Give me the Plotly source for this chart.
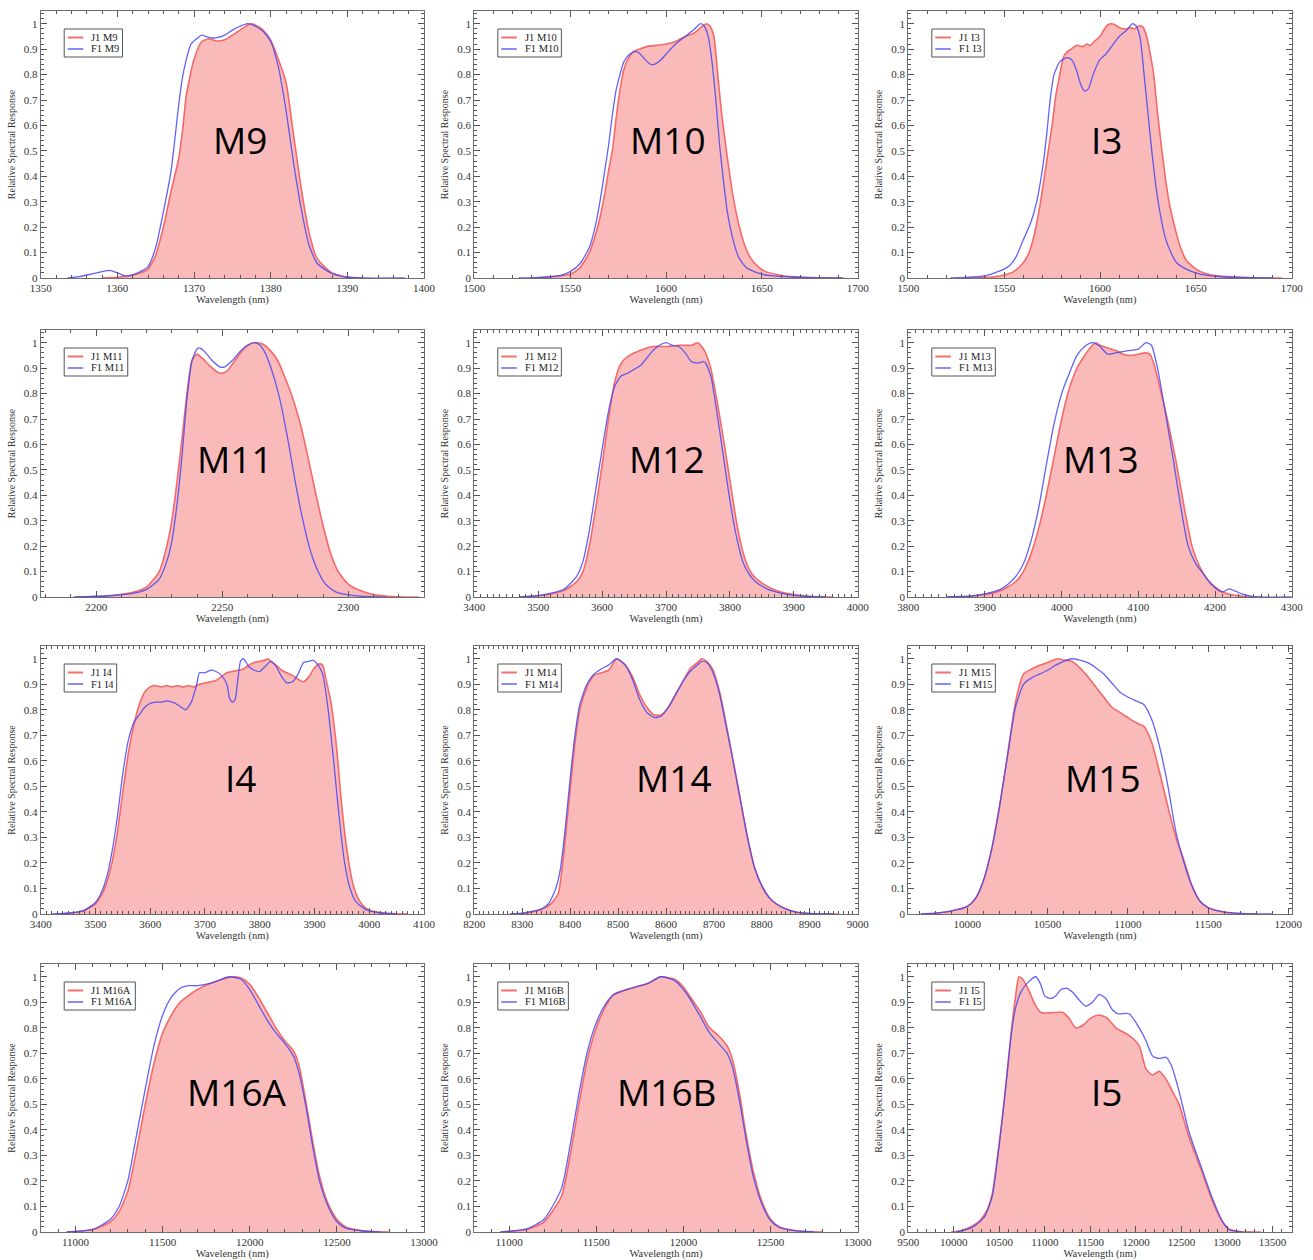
import plotly.graph_objects as go

# ---------------------------------------------------------------------------
# Relative spectral response (RSR) of VIIRS SWIR/MWIR/LWIR bands,
# J1 (red, filled) versus F1 (blue line).  Wavelengths in nm.
# ---------------------------------------------------------------------------

BANDS = ["M9", "M10", "I3", "M11", "M12", "M13", "I4", "M14", "M15", "M16A", "M16B", "I5"]

# ---- M9 ----
m9_j1_wl = [1358, 1360, 1362, 1363, 1364, 1365, 1366, 1367, 1368, 1368.5, 1369, 1370, 1371, 1372, 1373,
            1374, 1375, 1376, 1377, 1377.5, 1378, 1379, 1380, 1381, 1382, 1383, 1384, 1385, 1386, 1387,
            1388, 1389, 1390, 1392]
m9_j1_rsr = [0, 0.003, 0.012, 0.02, 0.035, 0.09, 0.2, 0.34, 0.47, 0.58, 0.72, 0.86, 0.93, 0.94, 0.932,
             0.937, 0.955, 0.975, 0.995, 1.0, 0.995, 0.975, 0.935, 0.86, 0.77, 0.56, 0.35, 0.18, 0.08, 0.045,
             0.02, 0.01, 0.004, 0]
m9_f1_wl = [1353.5, 1355, 1357, 1359, 1360, 1361, 1362, 1363, 1364, 1365, 1366, 1367, 1368, 1368.5, 1369,
            1369.6, 1370.5, 1371, 1372, 1373, 1374, 1375, 1376, 1377, 1378, 1379, 1380, 1381, 1382, 1383,
            1384, 1385, 1386, 1387, 1388, 1389, 1390, 1392, 1397.5]
m9_f1_rsr = [0, 0.005, 0.018, 0.03, 0.02, 0.008, 0.012, 0.025, 0.045, 0.12, 0.26, 0.42, 0.68, 0.79, 0.86,
             0.92, 0.945, 0.955, 0.945, 0.945, 0.955, 0.975, 0.99, 1.0, 0.99, 0.97, 0.93, 0.83, 0.66, 0.45,
             0.27, 0.13, 0.06, 0.035, 0.018, 0.008, 0.003, 0, 0]

# ---- M10 ----
m10_j1_wl = [1530, 1540, 1550, 1555, 1560, 1565, 1568, 1570, 1572, 1574, 1576, 1578, 1580, 1583, 1586,
             1590, 1595, 1600, 1605, 1610, 1615, 1618, 1621, 1623, 1625, 1627, 1629, 1631, 1633, 1635,
             1638, 1641, 1644, 1648, 1652, 1657, 1662, 1670, 1680, 1693]
m10_j1_rsr = [0, 0.005, 0.015, 0.04, 0.1, 0.22, 0.33, 0.42, 0.5, 0.63, 0.74, 0.82, 0.86, 0.89, 0.9,
              0.91, 0.915, 0.92, 0.93, 0.95, 0.965, 0.985, 1.0, 0.99, 0.95, 0.8, 0.65, 0.53, 0.42, 0.32,
              0.21, 0.13, 0.08, 0.045, 0.025, 0.015, 0.008, 0.004, 0.001, 0]
m10_f1_wl = [1523, 1535, 1545, 1550, 1555, 1560, 1563, 1566, 1568, 1570, 1572, 1574, 1576, 1578, 1581,
             1584, 1586, 1589, 1592, 1594, 1597, 1600, 1605, 1610, 1615, 1618, 1620, 1622, 1624, 1626,
             1628, 1630, 1632, 1635, 1638, 1642, 1646, 1650, 1656, 1665, 1675, 1692]
m10_f1_rsr = [0, 0.002, 0.01, 0.025, 0.055, 0.12, 0.2, 0.32, 0.42, 0.52, 0.64, 0.74, 0.8, 0.85, 0.88,
              0.89, 0.885, 0.86, 0.84, 0.84, 0.855, 0.88, 0.92, 0.95, 0.98, 1.0, 0.99, 0.95, 0.85, 0.7,
              0.52, 0.38, 0.26, 0.15, 0.08, 0.04, 0.025, 0.015, 0.008, 0.004, 0.001, 0]

# ---- I3 ----
i3_j1_wl = [1530, 1545, 1550, 1555, 1560, 1563, 1566, 1569, 1572, 1575, 1577, 1579, 1581, 1583, 1585,
            1588, 1591, 1593, 1595, 1597, 1600, 1602, 1604, 1606, 1608, 1610, 1612, 1614, 1616, 1618,
            1620, 1622, 1624, 1626, 1628, 1630, 1632, 1634, 1636, 1639, 1642, 1645, 1650, 1655, 1660,
            1670, 1680, 1695]
i3_j1_rsr = [0, 0.005, 0.012, 0.025, 0.06, 0.1, 0.18, 0.3, 0.45, 0.6, 0.72, 0.8, 0.87, 0.89, 0.9,
             0.915, 0.91, 0.92, 0.915, 0.93, 0.95, 0.975, 0.995, 1.0, 0.995, 0.985, 0.98, 0.98, 0.985, 0.98,
             0.99, 0.99, 0.96, 0.89, 0.8, 0.65, 0.52, 0.4, 0.3, 0.2, 0.12, 0.07, 0.035, 0.018, 0.01,
             0.004, 0.001, 0]
i3_f1_wl = [1522, 1530, 1540, 1545, 1550, 1553, 1556, 1560, 1564, 1567, 1570, 1572, 1574, 1576, 1579,
            1582, 1584, 1586, 1588, 1590, 1592, 1594, 1596, 1598, 1600, 1603, 1606, 1610, 1614, 1617,
            1619, 1621, 1623, 1625, 1627, 1629, 1631, 1634, 1637, 1640, 1645, 1650, 1656, 1665, 1690]
i3_f1_rsr = [0, 0.002, 0.008, 0.02, 0.035, 0.05, 0.08, 0.15, 0.22, 0.3, 0.43, 0.55, 0.7, 0.8, 0.85,
             0.865, 0.865, 0.85, 0.81, 0.76, 0.735, 0.745, 0.79, 0.83, 0.86, 0.88, 0.91, 0.95, 0.975, 1.0,
             0.99, 0.94, 0.8, 0.65, 0.5, 0.37, 0.27, 0.16, 0.1, 0.06, 0.035, 0.02, 0.01, 0.004, 0]

# ---- M11 ----
m11_j1_wl = [2192, 2205, 2215, 2220, 2225, 2228, 2230, 2232, 2234, 2236, 2238, 2240, 2242, 2245, 2248,
             2250, 2252, 2255, 2258, 2261, 2263, 2266, 2269, 2272, 2275, 2278, 2281, 2284, 2287, 2290,
             2293, 2296, 2300, 2305, 2310, 2315, 2320, 2328]
m11_j1_rsr = [0, 0.005, 0.02, 0.04, 0.1, 0.2, 0.3, 0.45, 0.62, 0.8, 0.93, 0.955, 0.94, 0.91, 0.885,
              0.88, 0.89, 0.93, 0.97, 0.995, 1.0, 0.995, 0.97, 0.93, 0.86, 0.78, 0.68, 0.55, 0.41, 0.28,
              0.17, 0.1, 0.05, 0.025, 0.01, 0.004, 0.001, 0]
m11_f1_wl = [2191, 2205, 2215, 2220, 2225, 2228, 2230, 2232, 2234, 2236, 2238, 2240, 2241, 2243, 2246,
             2249, 2251, 2254, 2257, 2260, 2263, 2265, 2267, 2270, 2273, 2276, 2279, 2282, 2285, 2288,
             2291, 2295, 2300, 2305, 2315]
m11_f1_rsr = [0, 0.005, 0.015, 0.03, 0.07, 0.14, 0.22, 0.36, 0.55, 0.78, 0.93, 0.975, 0.98, 0.965, 0.93,
              0.905, 0.905, 0.93, 0.965, 0.99, 1.0, 0.99, 0.96, 0.88, 0.77, 0.62, 0.45, 0.3, 0.18, 0.1,
              0.05, 0.02, 0.008, 0.003, 0]

# ---- M12 ----
m12_j1_wl = [3470, 3500, 3520, 3540, 3560, 3570, 3580, 3590, 3600, 3610, 3620, 3630, 3640, 3660, 3680,
             3700, 3720, 3740, 3750, 3760, 3770, 3780, 3790, 3800, 3810, 3820, 3830, 3840, 3860, 3880,
             3900, 3920, 3940, 3960]
m12_j1_rsr = [0, 0.005, 0.012, 0.025, 0.06, 0.1, 0.2, 0.35, 0.52, 0.7, 0.85, 0.92, 0.945, 0.97, 0.985,
              0.985, 0.99, 0.99, 1.0, 0.97, 0.9, 0.77, 0.62, 0.46, 0.3, 0.18, 0.11, 0.075, 0.04, 0.02,
              0.01, 0.004, 0.001, 0]
m12_f1_wl = [3470, 3500, 3520, 3540, 3560, 3570, 3580, 3590, 3600, 3610, 3620, 3630, 3640, 3650, 3660,
             3670, 3680, 3690, 3700, 3710, 3720, 3730, 3740, 3750, 3760, 3770, 3780, 3790, 3800, 3810,
             3820, 3830, 3840, 3860, 3880, 3900, 3920, 3950]
m12_f1_rsr = [0, 0.005, 0.015, 0.03, 0.08, 0.14, 0.26, 0.42, 0.58, 0.73, 0.83, 0.87, 0.88, 0.895, 0.91,
              0.94, 0.97, 0.99, 1.0, 0.99, 0.985, 0.96, 0.925, 0.92, 0.925, 0.87, 0.72, 0.55, 0.38, 0.24,
              0.14, 0.09, 0.06, 0.03, 0.015, 0.006, 0.002, 0]

# ---- M13 ----
m13_j1_wl = [3850, 3880, 3900, 3920, 3940, 3950, 3960, 3970, 3980, 3990, 4000, 4010, 4020, 4030, 4040,
             4045, 4050, 4060, 4070, 4080, 4090, 4100, 4110, 4115, 4120, 4130, 4140, 4150, 4160, 4170,
             4180, 4190, 4200, 4210, 4220, 4240, 4260]
m13_j1_rsr = [0, 0.003, 0.01, 0.025, 0.06, 0.1, 0.17, 0.27, 0.4, 0.55, 0.7, 0.82, 0.9, 0.95, 0.99,
              1.0, 0.99, 0.98, 0.97, 0.955, 0.95, 0.955, 0.96, 0.955, 0.92, 0.8, 0.67, 0.52, 0.35, 0.2,
              0.12, 0.07, 0.04, 0.02, 0.01, 0.002, 0]
m13_f1_wl = [3850, 3880, 3900, 3920, 3930, 3940, 3950, 3960, 3970, 3980, 3990, 4000, 4010, 4020, 4030,
             4040, 4050, 4060, 4070, 4080, 4090, 4100, 4110, 4117, 4125, 4135, 4145, 4155, 4165, 4175,
             4185, 4195, 4205, 4210, 4218, 4225, 4235, 4245, 4255, 4300]
m13_f1_rsr = [0, 0.003, 0.012, 0.03, 0.05, 0.08, 0.13, 0.22, 0.35, 0.52, 0.68, 0.8, 0.88, 0.95, 0.985,
              1.0, 0.985, 0.955, 0.96, 0.965, 0.97, 0.975, 1.0, 0.99, 0.9, 0.73, 0.55, 0.36, 0.2, 0.13,
              0.09, 0.05, 0.025, 0.02, 0.032, 0.025, 0.012, 0.004, 0, 0]

# ---- I4 ----
i4_j1_wl = [3430, 3460, 3480, 3500, 3510, 3520, 3530, 3540, 3550, 3560, 3570, 3580, 3590, 3600, 3610,
            3620, 3630, 3640, 3650, 3660, 3670, 3680, 3690, 3700, 3710, 3720, 3730, 3740, 3750, 3760,
            3770, 3780, 3790, 3800, 3810, 3815, 3820, 3830, 3840, 3850, 3860, 3870, 3880, 3890, 3900,
            3910, 3915, 3920, 3930, 3940, 3950, 3960, 3970, 3980, 3990, 4000, 4020, 4040, 4070]
i4_j1_rsr = [0, 0.005, 0.015, 0.04, 0.07, 0.12, 0.2, 0.32, 0.48, 0.63, 0.74, 0.82, 0.87, 0.89, 0.895,
             0.89, 0.895, 0.89, 0.895, 0.89, 0.895, 0.89, 0.9, 0.905, 0.91, 0.915, 0.93, 0.945, 0.95, 0.955,
             0.96, 0.975, 0.985, 0.99, 0.995, 1.0, 0.99, 0.975, 0.955, 0.945, 0.935, 0.92, 0.91, 0.93, 0.965,
             0.98, 0.975, 0.93, 0.83, 0.66, 0.42, 0.24, 0.12, 0.06, 0.03, 0.015, 0.006, 0.002, 0]
i4_f1_wl = [3420, 3460, 3480, 3500, 3510, 3520, 3530, 3540, 3550, 3560, 3570, 3580, 3590, 3600, 3610,
            3620, 3630, 3640, 3650, 3660, 3665, 3675, 3685, 3690, 3700, 3710, 3720, 3730, 3740, 3745,
            3750, 3755, 3760, 3765, 3770, 3780, 3790, 3800, 3810, 3820, 3830, 3840, 3850, 3860, 3870,
            3880, 3890, 3897, 3905, 3915, 3925, 3935, 3945, 3955, 3965, 3975, 3990, 4000, 4020, 4050]
i4_f1_rsr = [0, 0.005, 0.015, 0.045, 0.08, 0.14, 0.24, 0.38, 0.55, 0.68, 0.75, 0.78, 0.81, 0.825, 0.83,
             0.83, 0.835, 0.83, 0.82, 0.805, 0.8, 0.83, 0.9, 0.945, 0.945, 0.955, 0.95, 0.935, 0.9, 0.845,
             0.83, 0.84, 0.92, 0.99, 1.0, 0.97, 0.955, 0.95, 0.97, 0.99, 0.97, 0.93, 0.905, 0.91, 0.94,
             0.985, 0.99, 0.995, 0.98, 0.94, 0.8, 0.6, 0.38, 0.2, 0.1, 0.05, 0.022, 0.012, 0.004, 0]

# ---- M14 ----
m14_j1_wl = [8275, 8300, 8320, 8340, 8360, 8375, 8390, 8400, 8410, 8420, 8435, 8450, 8465, 8480, 8497,
             8515, 8530, 8545, 8560, 8575, 8590, 8605, 8620, 8635, 8650, 8665, 8675, 8685, 8697, 8712,
             8725, 8740, 8755, 8770, 8785, 8800, 8815, 8830, 8850, 8870, 8900, 8960]
m14_j1_rsr = [0, 0.002, 0.008, 0.018, 0.04, 0.08, 0.3, 0.49, 0.67, 0.8, 0.89, 0.935, 0.945, 0.955, 1.0,
              0.975, 0.93, 0.86, 0.81, 0.78, 0.78, 0.81, 0.86, 0.91, 0.96, 0.985, 1.0, 0.99, 0.96, 0.87,
              0.75, 0.6, 0.45, 0.3, 0.18, 0.11, 0.065, 0.04, 0.02, 0.008, 0.002, 0]
m14_f1_wl = [8275, 8300, 8320, 8340, 8355, 8370, 8380, 8390, 8400, 8410, 8420, 8435, 8450, 8465, 8480,
             8497, 8515, 8530, 8545, 8560, 8575, 8590, 8605, 8620, 8635, 8650, 8665, 8675, 8685, 8697,
             8712, 8725, 8740, 8755, 8770, 8785, 8800, 8815, 8830, 8850, 8870, 8900, 8950]
m14_f1_rsr = [0, 0.003, 0.01, 0.02, 0.04, 0.1, 0.18, 0.34, 0.53, 0.7, 0.82, 0.9, 0.94, 0.96, 0.975,
              1.0, 0.975, 0.92, 0.84, 0.79, 0.77, 0.775, 0.81, 0.86, 0.91, 0.95, 0.975, 0.99, 0.985, 0.95,
              0.86, 0.74, 0.6, 0.45, 0.3, 0.18, 0.11, 0.065, 0.04, 0.02, 0.008, 0.002, 0]

# ---- M15 ----
m15_j1_wl = [9710, 9800, 9900, 10000, 10050, 10100, 10150, 10200, 10250, 10300, 10350, 10400, 10450, 10500,
             10560, 10600, 10650, 10700, 10750, 10800, 10850, 10900, 10950, 11000, 11050, 11100, 11150,
             11200, 11250, 11300, 11350, 11400, 11450, 11500, 11600, 11700, 11800]
m15_j1_rsr = [0, 0.003, 0.012, 0.03, 0.06, 0.13, 0.25, 0.42, 0.62, 0.83, 0.94, 0.96, 0.975, 0.985,
              1.0, 0.995, 0.99, 0.965, 0.93, 0.89, 0.85, 0.81, 0.79, 0.77, 0.75, 0.735, 0.67,
              0.55, 0.42, 0.3, 0.21, 0.11, 0.05, 0.025, 0.007, 0.002, 0]
m15_f1_wl = [9710, 9800, 9900, 10000, 10050, 10100, 10150, 10200, 10250, 10300, 10350, 10400, 10450, 10500,
             10550, 10600, 10650, 10700, 10750, 10800, 10850, 10900, 10950, 11000, 11050, 11100, 11150,
             11200, 11250, 11300, 11350, 11400, 11450, 11500, 11600, 11700, 11900]
m15_f1_rsr = [0, 0.003, 0.012, 0.03, 0.06, 0.13, 0.25, 0.42, 0.62, 0.81, 0.9, 0.925, 0.94, 0.955,
              0.975, 0.99, 1.0, 0.995, 0.985, 0.965, 0.94, 0.905, 0.87, 0.85, 0.835, 0.82, 0.76,
              0.65, 0.5, 0.32, 0.2, 0.11, 0.05, 0.025, 0.008, 0.002, 0]

# ---- M16A ----
m16a_j1_wl = [10950, 11100, 11200, 11250, 11300, 11350, 11400, 11450, 11500, 11550, 11600, 11700, 11800,
              11900, 11950, 12000, 12050, 12100, 12150, 12200, 12250, 12280, 12320, 12360, 12400, 12450,
              12500, 12550, 12650, 12800]
m16a_j1_rsr = [0, 0.01, 0.04, 0.08, 0.16, 0.32, 0.5, 0.66, 0.78, 0.85, 0.9, 0.95, 0.98,
               1.0, 0.995, 0.97, 0.92, 0.86, 0.8, 0.75, 0.71, 0.66, 0.52, 0.36, 0.22, 0.11,
               0.05, 0.02, 0.005, 0]
m16a_f1_wl = [10950, 11100, 11200, 11250, 11300, 11350, 11400, 11450, 11500, 11550, 11600, 11650, 11700,
              11800, 11880, 11950, 12000, 12050, 12100, 12150, 12200, 12250, 12280, 12320, 12360, 12400,
              12450, 12500, 12550, 12650, 12750]
m16a_f1_rsr = [0, 0.01, 0.05, 0.1, 0.2, 0.38, 0.56, 0.73, 0.85, 0.92, 0.955, 0.965, 0.965,
               0.98, 1.0, 0.99, 0.95, 0.89, 0.83, 0.78, 0.74, 0.69, 0.63, 0.5, 0.34, 0.2,
               0.1, 0.04, 0.015, 0.004, 0]

# ---- M16B ----
m16b_j1_wl = [10950, 11100, 11200, 11300, 11350, 11400, 11450, 11500, 11550, 11600, 11700, 11800, 11870,
              11950, 12000, 12050, 12100, 12150, 12200, 12250, 12280, 12320, 12360, 12400, 12450, 12500,
              12550, 12650, 12800]
m16b_j1_rsr = [0, 0.01, 0.04, 0.14, 0.3, 0.5, 0.68, 0.8, 0.88, 0.93, 0.955, 0.975, 1.0,
               0.99, 0.96, 0.91, 0.86, 0.8, 0.77, 0.73, 0.68, 0.55, 0.38, 0.24, 0.12, 0.05,
               0.02, 0.005, 0]
m16b_f1_wl = [10950, 11100, 11200, 11300, 11350, 11400, 11450, 11500, 11550, 11600, 11700, 11800, 11870,
              11950, 12000, 12050, 12100, 12150, 12200, 12250, 12280, 12320, 12360, 12400, 12450, 12500,
              12550, 12650, 12750]
m16b_f1_rsr = [0, 0.012, 0.05, 0.17, 0.34, 0.54, 0.71, 0.82, 0.89, 0.93, 0.955, 0.975, 1.0,
               0.985, 0.95, 0.9, 0.84, 0.78, 0.74, 0.7, 0.65, 0.52, 0.36, 0.22, 0.11, 0.045,
               0.018, 0.004, 0]

# ---- I5 ----
i5_j1_wl = [9971, 10076, 10181, 10286, 10370, 10422, 10474, 10527, 10579, 10626, 10673, 10715, 10757,
            10820, 10893, 10956, 11119, 11197, 11260, 11339, 11417, 11511, 11595, 11679, 11779, 11925,
            12035, 12109, 12181, 12254, 12329, 12402, 12474, 12584, 12731, 12841, 12951, 13024, 13114, 13376]
i5_j1_rsr = [0, 0.005, 0.02, 0.045, 0.09, 0.15, 0.28, 0.43, 0.6, 0.77, 0.91, 1.0, 0.99,
             0.95, 0.89, 0.86, 0.86, 0.86, 0.84, 0.8, 0.81, 0.84, 0.85, 0.84, 0.8, 0.77,
             0.73, 0.64, 0.615, 0.63, 0.6, 0.55, 0.5, 0.37, 0.23, 0.12, 0.04, 0.01, 0.003, 0]
i5_f1_wl = [10024, 10129, 10233, 10338, 10422, 10474, 10527, 10579, 10626, 10673, 10736, 10820, 10900,
            10954, 10998, 11061, 11119, 11176, 11239, 11302, 11386, 11449, 11522, 11595, 11669, 11742,
            11805, 11925, 12035, 12109, 12181, 12254, 12329, 12391, 12474, 12584, 12731, 12841, 12951,
            13024, 13167]
i5_f1_rsr = [0, 0.008, 0.025, 0.06, 0.14, 0.27, 0.43, 0.6, 0.76, 0.87, 0.94, 0.98, 1.0,
             0.97, 0.925, 0.915, 0.925, 0.95, 0.955, 0.94, 0.905, 0.885, 0.9, 0.93, 0.915, 0.87,
             0.855, 0.855, 0.8, 0.75, 0.69, 0.68, 0.685, 0.65, 0.55, 0.39, 0.24, 0.13, 0.04,
             0.01, 0]

J1_CURVES = {
    "M9": (m9_j1_wl, m9_j1_rsr), "M10": (m10_j1_wl, m10_j1_rsr), "I3": (i3_j1_wl, i3_j1_rsr),
    "M11": (m11_j1_wl, m11_j1_rsr), "M12": (m12_j1_wl, m12_j1_rsr), "M13": (m13_j1_wl, m13_j1_rsr),
    "I4": (i4_j1_wl, i4_j1_rsr), "M14": (m14_j1_wl, m14_j1_rsr), "M15": (m15_j1_wl, m15_j1_rsr),
    "M16A": (m16a_j1_wl, m16a_j1_rsr), "M16B": (m16b_j1_wl, m16b_j1_rsr), "I5": (i5_j1_wl, i5_j1_rsr),
}
F1_CURVES = {
    "M9": (m9_f1_wl, m9_f1_rsr), "M10": (m10_f1_wl, m10_f1_rsr), "I3": (i3_f1_wl, i3_f1_rsr),
    "M11": (m11_f1_wl, m11_f1_rsr), "M12": (m12_f1_wl, m12_f1_rsr), "M13": (m13_f1_wl, m13_f1_rsr),
    "I4": (i4_f1_wl, i4_f1_rsr), "M14": (m14_f1_wl, m14_f1_rsr), "M15": (m15_f1_wl, m15_f1_rsr),
    "M16A": (m16a_f1_wl, m16a_f1_rsr), "M16B": (m16b_f1_wl, m16b_f1_rsr), "I5": (i5_f1_wl, i5_f1_rsr),
}

# x-axis range, major and minor tick spacing per band
X_RANGE = {"M9": (1350, 1400), "M10": (1500, 1700), "I3": (1500, 1700), "M11": (2178, 2330),
           "M12": (3400, 4000), "M13": (3800, 4300), "I4": (3400, 4100), "M14": (8200, 9000),
           "M15": (9632, 12021), "M16A": (10800, 13000), "M16B": (10800, 13000), "I5": (9500, 13710)}
X_DTICK = {"M9": 10, "M10": 50, "I3": 50, "M11": 50, "M12": 100, "M13": 100, "I4": 100, "M14": 100,
           "M15": 500, "M16A": 500, "M16B": 500, "I5": 500}
X_MINOR = {"M9": 2, "M10": 10, "I3": 10, "M11": 10, "M12": 10, "M13": 10, "I4": 10, "M14": 10,
           "M15": 100, "M16A": 100, "M16B": 100, "I5": 100}

# ---------------------------------------------------------------------------
# Page layout (pixels)
# ---------------------------------------------------------------------------
W, H = 1313, 1260
COL_L = [40.7, 474.3, 908.3]
COL_R = [424.0, 857.7, 1291.7]
ROW_T = [11.0, 330.0, 646.0, 964.0]
ROW_B = [278.0, 597.0, 914.0, 1232.0]

# where the big band name sits inside each panel (axis-domain fractions)
LABEL_X = {"M9": 0.52, "M10": 0.505, "I3": 0.518, "M11": 0.507, "M12": 0.503, "M13": 0.503,
           "I4": 0.522, "M14": 0.521, "M15": 0.507, "M16A": 0.512, "M16B": 0.503, "I5": 0.519}
LABEL_Y = [0.5175, 0.5175, 0.51, 0.525]

SERIF = "Liberation Serif, Times New Roman, serif"
BIG = "Open Sans, sans-serif"
FILL = "rgb(250,186,186)"
RED = "rgba(245,85,85,0.85)"
BLUE = "rgba(70,70,245,0.85)"
FRAME = "#6d6d6d"
TICK = "#555555"

# Times-like advance widths (em) used to size the legend boxes
CHAR_EM = {"J": 0.389, "F": 0.556, "M": 0.889, "I": 0.333, "A": 0.722, "B": 0.667, " ": 0.25}


def text_em(s):
    return sum(CHAR_EM.get(ch, 0.5) for ch in s)


fig = go.Figure()
layout = dict(
    width=W, height=H, margin=dict(l=0, r=0, t=0, b=0, autoexpand=False),
    paper_bgcolor="white", plot_bgcolor="white", showlegend=False,
    annotations=[], shapes=[],
)

for i, band in enumerate(BANDS):
    r, c = divmod(i, 3)
    n = i + 1
    sfx = "" if n == 1 else str(n)
    xref, yref = "x" + sfx, "y" + sfx
    pw = COL_R[c] - COL_L[c]
    ph = ROW_B[r] - ROW_T[r]

    jx, jy = J1_CURVES[band]
    fx, fy = F1_CURVES[band]
    fig.add_trace(go.Scatter(x=jx, y=jy, mode="lines", name="J1 " + band, fill="tozeroy",
                             fillcolor=FILL, line=dict(color=RED, width=1.6, shape="spline", smoothing=0.6),
                             xaxis=xref, yaxis=yref))
    fig.add_trace(go.Scatter(x=fx, y=fy, mode="lines", name="F1 " + band,
                             line=dict(color=BLUE, width=1.3, shape="spline", smoothing=0.6),
                             xaxis=xref, yaxis=yref))

    common = dict(
        showline=True, linecolor=FRAME, linewidth=1, mirror="allticks",
        ticks="inside", ticklen=6, tickwidth=1, tickcolor=TICK,
        showgrid=False, zeroline=False, automargin=False,
        tickfont=dict(family=SERIF, size=11, color="#333333"),
    )
    layout["xaxis" + sfx] = dict(
        common, domain=[COL_L[c] / W, COL_R[c] / W], anchor=yref,
        range=list(X_RANGE[band]), tick0=0, dtick=X_DTICK[band], tickformat="d",
        minor=dict(ticks="inside", ticklen=3, tickcolor=TICK, tick0=0, dtick=X_MINOR[band]),
        title=dict(text="Wavelength (nm)", font=dict(family=SERIF, size=10.5, color="#333333"), standoff=1),
    )
    layout["yaxis" + sfx] = dict(
        common, domain=[1 - ROW_B[r] / H, 1 - ROW_T[r] / H], anchor=xref,
        range=[0, 1.05], tick0=0, dtick=0.1,
        minor=dict(ticks="inside", ticklen=3, tickcolor=TICK, tick0=0, dtick=0.02),
        title=dict(text="Relative Spectral Response", font=dict(family=SERIF, size=10, color="#333333"),
                   standoff=6),
    )

    # band name in the middle of the panel
    layout["annotations"].append(dict(
        text=band, xref=xref + " domain", yref=yref + " domain", x=LABEL_X[band], y=LABEL_Y[r],
        xanchor="center", yanchor="middle", showarrow=False,
        font=dict(family=BIG, size=37, color="black"),
    ))

    # framed legend in the upper-left corner
    labels = ["J1 " + band, "F1 " + band]
    colors = [RED, BLUE]
    fsize = 10.5
    bx0 = 23.5
    bw = 25 + max(text_em(s) for s in labels) * fsize + 5
    bt, bb = 18.0, 46.0
    layout["shapes"].append(dict(
        type="rect", xref=xref + " domain", yref=yref + " domain",
        x0=bx0 / pw, x1=(bx0 + bw) / pw, y0=1 - bb / ph, y1=1 - bt / ph,
        line=dict(color="#555555", width=1), fillcolor="white", layer="above",
    ))
    for k, (lab, col) in enumerate(zip(labels, colors)):
        yy = 1 - (bt + 8.5 + 11.5 * k) / ph
        layout["shapes"].append(dict(
            type="line", xref=xref + " domain", yref=yref + " domain",
            x0=(bx0 + 3.5) / pw, x1=(bx0 + 19) / pw, y0=yy, y1=yy,
            line=dict(color=col, width=2 if k == 0 else 1.5), layer="above",
        ))
        layout["annotations"].append(dict(
            text=lab, xref=xref + " domain", yref=yref + " domain",
            x=(bx0 + 25) / pw, y=yy, xanchor="left", yanchor="middle", showarrow=False,
            font=dict(family=SERIF, size=fsize, color="#222222"),
        ))

fig.update_layout(**layout)
fig.write_html("out.html")
